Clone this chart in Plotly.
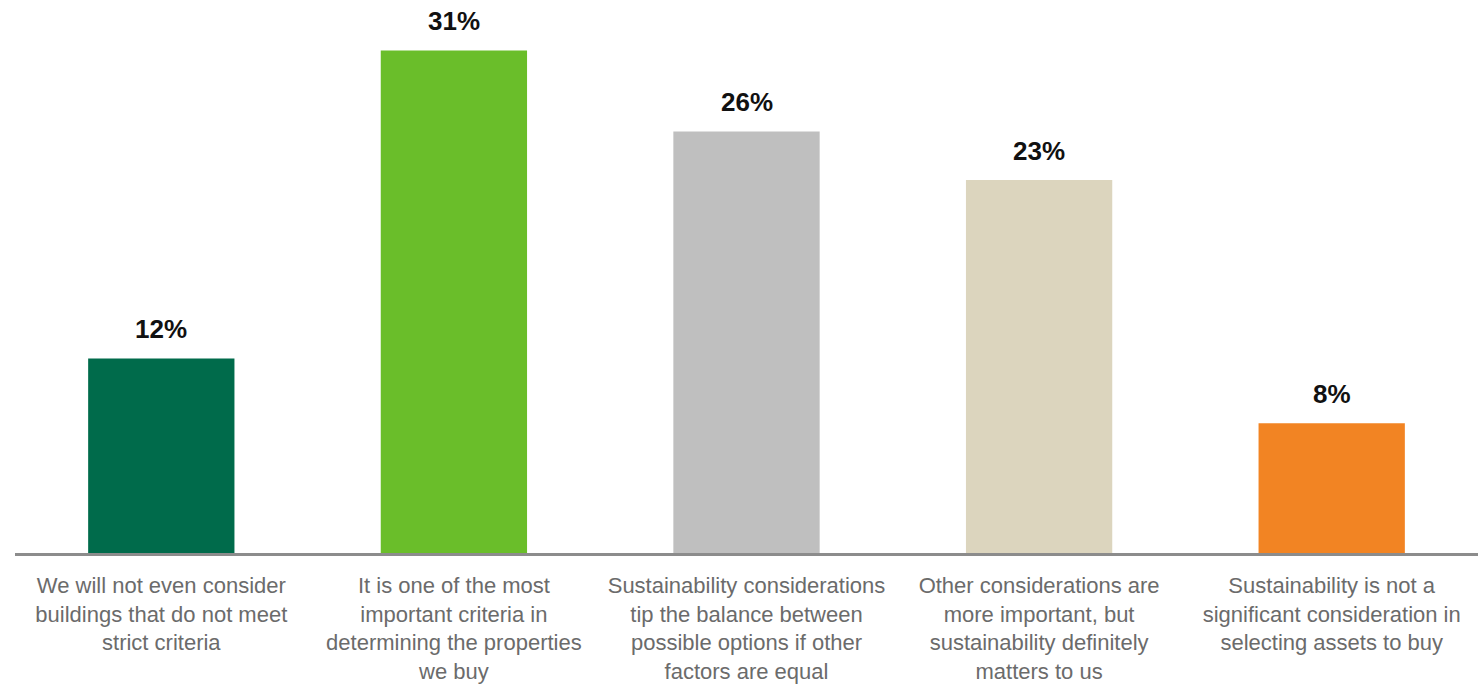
import plotly.graph_objects as go

categories = [
    "We will not even consider<br>buildings that do not meet<br>strict criteria",
    "It is one of the most<br>important criteria in<br>determining the properties<br>we buy",
    "Sustainability considerations<br>tip the balance between<br>possible options if other<br>factors are equal",
    "Other considerations are<br>more important, but<br>sustainability definitely<br>matters to us",
    "Sustainability is not a<br>significant consideration in<br>selecting assets to buy",
]
values = [12, 31, 26, 23, 8]
colors = ["#006B4B", "#6ABE2A", "#BFBFBF", "#DCD5BE", "#F28423"]

x_idx = list(range(len(values)))

fig = go.Figure()
fig.add_trace(go.Bar(
    x=x_idx,
    y=values,
    marker=dict(color=colors, line=dict(width=0)),
    hoverinfo="skip",
))

for i, v in zip(x_idx, values):
    fig.add_annotation(
        x=i, y=v, text=f"<b>{v}%</b>", showarrow=False,
        yanchor="bottom", yshift=12,
        font=dict(family="Liberation Sans, Arial, sans-serif", size=26, color="#111111"),
    )

fig.update_layout(
    width=1483, height=684,
    margin=dict(l=15, r=5, t=18, b=131),
    paper_bgcolor="white", plot_bgcolor="white",
    bargap=0.5,
    showlegend=False,
    xaxis=dict(
        tickmode="array", tickvals=x_idx, ticktext=categories,
        range=[-0.5, 4.5],
        showline=True, linecolor="#8C8C8C", linewidth=2.5,
        ticks="", showgrid=False, zeroline=False,
        tickfont=dict(family="Liberation Sans, Arial, sans-serif", size=22, color="#6B6B6B"),
        ticklabelstandoff=11,
        automargin=False,
    ),
    yaxis=dict(range=[0, 33], visible=False, showgrid=False, zeroline=False,
               automargin=False),
)

fig.write_html("out.html")
